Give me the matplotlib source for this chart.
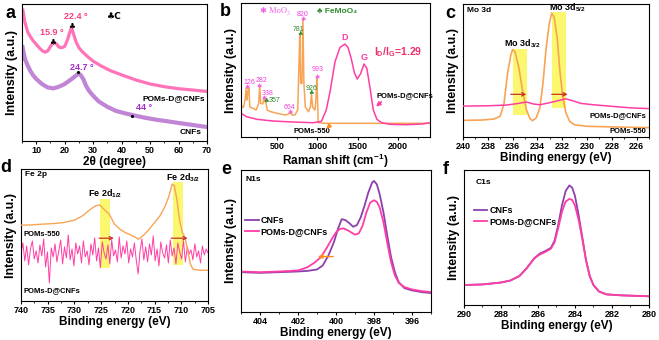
import numpy as np
import matplotlib
matplotlib.use('Agg')
import matplotlib.pyplot as plt
from matplotlib.patches import Rectangle
from matplotlib.ticker import MultipleLocator

plt.rcParams['font.family'] = ['Liberation Sans', 'DejaVu Sans']
plt.rcParams['font.weight'] = 'bold'
plt.rcParams['mathtext.fontset'] = 'custom'
plt.rcParams['mathtext.rm'] = 'Liberation Sans:bold'
plt.rcParams['mathtext.it'] = 'Liberation Sans:bold'
plt.rcParams['mathtext.bf'] = 'Liberation Sans:bold'
plt.rcParams['mathtext.default'] = 'rm'

# ---- a: XRD ----
xrd_x_pom = [5.3, 6, 7, 8, 9, 10, 11, 12, 13, 14, 15, 16, 17, 18, 19, 20, 21, 22, 22.4, 23, 24, 25, 26,
             28, 30, 33, 36, 40, 45, 50, 55, 60, 65, 70]
xrd_y_pom = [130, 118.3, 108.3, 103.3, 99.3, 96, 92.7, 90, 88.3, 89.3, 94, 98, 96.7, 93.3, 92.7, 94, 100.7,
             110, 112.7, 107.3, 98.3, 92.7, 89.3, 84, 79.3, 74.3, 70, 65.7, 60.7, 56.7, 54, 52, 50.7, 49.3]
xrd_x_cnf = [5.2, 6, 7, 8, 9, 10, 12, 14, 16, 18, 20, 22, 23.5, 24.7, 25.5, 26.5, 27.5, 28.5, 30, 32, 35,
             38, 41, 44, 48, 52, 56, 60, 65, 70]
xrd_y_cnf = [93.3, 81.7, 75, 69.3, 65, 61.7, 56.7, 53.3, 52.3, 54, 56.7, 60.7, 64, 66.7, 66, 61.7, 55, 50,
             45, 39.3, 34, 30, 27.7, 25.7, 23.3, 21.3, 19.7, 18, 16, 14]

# ---- b: Raman ----
ram_x_550 = [50, 80, 100, 115, 125, 135, 148, 160, 200, 240, 270, 282, 295, 320, 338, 348, 357, 375, 420,
             500, 600, 640, 664, 685, 720, 755, 770, 781, 792, 808, 820, 832, 850, 890, 912, 926, 940,
             970, 983, 993, 1002, 1010, 1100, 1500, 2000, 2400]
ram_y_550 = [31, 29.7, 37, 48.7, 37, 45, 48.7, 30, 28.7, 27, 33.7, 51, 33.7, 33, 39.7, 35.3, 37, 27, 25.3,
             23.7, 22, 23, 25, 22, 22, 27, 70, 102, 53.7, 53.7, 117.7, 53.7, 30, 25.3, 30, 43, 30,
             27, 40, 59.7, 37, 14.3, 13.7, 13.7, 13.7, 13.7]
ram_x_pom = [50, 120, 250, 450, 700, 950, 1050, 1110, 1157, 1219, 1281, 1343, 1380, 1420, 1460, 1495,
             1535, 1580, 1615, 1655, 1695, 1740, 1800, 1900, 2100, 2300, 2400]
ram_y_pom = [23.7, 20.3, 17.7, 16, 15, 14.3, 15.7, 27, 45.3, 75.3, 89.7, 93, 89.7, 78.7, 64.3, 58,
             63, 73, 68.7, 48.7, 27, 17.7, 14.3, 12.7, 12.3, 13, 14.3]
moo3_peaks = [126, 282, 338, 664, 820, 993]
moo3_mark_y = [49.7, 51, 38.7, 24.3, 117.7, 59.7]
moo3_lab_x = [150, 300, 380, 654, 811, 1006]
moo3_lab_y = [55, 57, 44, 30, 123, 67.7]
femo_peaks = [357, 781, 926]
femo_mark_y = [34.7, 102, 43]
femo_lab_x = [470, 770, 923]
femo_lab_y = [37, 108, 48.5]

# ---- c: Mo 3d ----
mo_x_550 = [240, 238.5, 237.5, 237.0, 236.7, 236.4, 236.15, 236.0, 235.8, 235.5, 235.2, 234.9, 234.6,
            234.4, 234.1, 233.8, 233.55, 233.3, 233.05, 232.85, 232.65, 232.4, 232.2, 231.95, 231.7,
            231.4, 231.0, 230.0, 228, 225]
mo_y_550 = [16, 16.3, 17.3, 20, 31.7, 61.7, 78.3, 84, 81.7, 66.7, 45, 26.7, 17.7, 15.7, 18.3, 28.3,
            51.7, 85, 108.3, 119, 115, 95, 65, 38.3, 23.3, 15, 11.7, 10.3, 9.7, 9]
mo_x_pom = [240, 238, 236.5, 235.5, 234.9, 234.3, 233.8, 233.0, 232.3, 231.7, 231.2, 230.5, 229.5,
            228.5, 227.5, 226.5, 225]
mo_y_pom = [29.7, 30, 30.7, 32.3, 33.7, 31.7, 31, 33, 35, 36.7, 35, 32.3, 31, 30, 29, 28, 27.3]

# ---- d: Fe 2p ----
fe_x_550 = [740, 738, 736, 734, 732, 730, 728.5, 727, 726, 725.3, 724.5, 723.5, 722.5, 721.5, 720.5,
            719.5, 718.5, 718, 717, 716, 715, 714, 713, 712.3, 711.7, 711.3, 710.8, 710.3, 709.8,
            709.3, 708.8, 708.3, 707.8, 706.5, 705]
fe_y_550 = [75.7, 76, 76.7, 77.3, 78.3, 80.7, 85, 91.7, 95, 96, 91.7, 86.7, 76.7, 71.7, 68.3, 66, 63.3,
            61.7, 66, 71.7, 78.3, 85, 95, 105, 116.7, 115, 100, 80, 68.3, 63.3, 50, 36.7, 31.7, 30.7, 30.7]
fe_y_pom = [48, 58, 40, 55, 36, 52, 60, 42, 50, 38, 56, 45, 62, 34, 49, 18, 53, 44, 57, 39,
            50, 61, 37, 54, 43, 66, 41, 52, 35, 58, 47, 55, 38, 60, 44, 50, 36, 57, 46, 63,
            40, 53, 33, 59, 48, 42, 56, 37, 61, 45, 51, 39, 64, 43, 55, 47, 60, 38, 52, 44,
            58, 41, 27, 50, 62, 41, 54, 39, 57, 46, 65, 40, 52, 35, 59, 48, 43, 56, 38, 61,
            45, 53, 37, 58, 49, 42, 60, 39, 54, 47, 51, 41, 57, 44, 50, 38, 55, 46, 52, 48]

# ---- e: N1s ----
n_x_cnf = [405, 404, 403, 402, 401.5, 401, 400.7, 400.4, 400.1, 399.9, 399.7, 399.5, 399.3, 399.1,
           398.9, 398.7, 398.5, 398.3, 398.1, 398.0, 397.85, 397.7, 397.5, 397.3, 397.1, 396.9, 396.7,
           396.4, 396, 395.5, 395]
n_y_cnf = [40, 39.3, 40, 40.7, 41.3, 42.7, 46.7, 56.7, 70.7, 83.3, 93.3, 92.3, 89.3, 85.7, 87.3, 95,
           106.7, 120, 130, 131.7, 128.3, 118.3, 100, 76.7, 55, 40, 30, 24, 21.7, 20, 19]
n_x_pom = [405, 404, 403, 402, 401.5, 401.1, 400.8, 400.5, 400.2, 400.0, 399.8, 399.6, 399.4, 399.2,
           399.0, 398.8, 398.6, 398.4, 398.2, 398.0, 397.85, 397.7, 397.5, 397.3, 397.1, 396.9, 396.7,
           396.4, 396, 395.5, 395]
n_y_pom = [40.7, 40, 40.7, 41.7, 45, 50, 55, 64, 74, 80, 83.3, 84, 82.3, 80, 77.7, 79, 86.7, 100, 110,
           112.3, 110.7, 105, 90, 69.3, 50, 36.7, 29.3, 25, 22.7, 21, 20]

# ---- f: C1s ----
c_x = [290, 289, 288, 287.5, 287, 286.6, 286.2, 285.9, 285.6, 285.3, 285.1, 284.9, 284.7, 284.5, 284.3,
       284.15, 284.0, 283.8, 283.6, 283.4, 283.2, 283.0, 282.7, 282.3, 281.5, 280]
c_y_cnf = [20.7, 21.3, 23.3, 25.3, 30, 38.3, 48.3, 53.3, 56, 59.3, 66.7, 83.3, 103.3, 118.3, 124, 121.7,
           113.3, 93.3, 70, 46.7, 30, 20.7, 14, 11, 10, 9]
c_y_pom = [20.7, 21.3, 23.3, 25.3, 30, 38.3, 48.3, 52.3, 55, 58.3, 65, 80, 96.7, 107.3, 110, 109,
           103.3, 88.3, 68.3, 46, 30, 20.7, 14, 11, 10, 9]

ORANGE = '#f8a455'
PINK = '#ff3ea5'
PURPLE = '#8e3fae'
YELLOW = '#fbf64a'
ARROW = '#c8332b'

fig = plt.figure(figsize=(6.59, 3.40), dpi=100)


def frame(rect, xlim, ylim, major, minor, xlabel):
    ax = fig.add_axes(rect)
    ax.set_xlim(*xlim)
    ax.set_ylim(*ylim)
    ax.set_yticks([])
    ax.xaxis.set_major_locator(MultipleLocator(major))
    ax.xaxis.set_minor_locator(MultipleLocator(minor))
    ax.tick_params(axis='x', which='major', direction='out', length=2.5, width=0.8,
                   labelsize=6.5, pad=1.2)
    ax.tick_params(axis='x', which='minor', direction='out', length=1.5, width=0.6)
    for lab in ax.get_xticklabels():
        lab.set_fontweight('bold')
    for s in ax.spines.values():
        s.set_linewidth(0.8)
    ax.set_ylabel('Intensity (a.u.)', fontsize=9, fontweight='bold', labelpad=3)
    ax.set_xlabel(xlabel, fontsize=8.5, fontweight='bold', labelpad=0.5)
    return ax


SYM = ['DejaVu Sans']

# a
ax = frame([0.0334, 0.585, 0.2807, 0.403], (5, 70), (0, 136), 10, 5, '2θ (degree)')
ax.plot(xrd_x_cnf, xrd_y_cnf, color='#c185d6', lw=3)
ax.plot(xrd_x_pom, xrd_y_pom, color='#ff73b9', lw=2.3)
ax.text(15.9, 99, '♣', family=SYM, fontsize=5.5, ha='center', va='center')
ax.text(22.4, 114.5, '♣', family=SYM, fontsize=5.5, ha='center', va='center')
ax.text(15.3, 107.5, '15.9 °', color='#f53d83', fontsize=6.5, ha='center', va='center')
ax.text(23.8, 123.5, '22.4 °', color='#f53d83', fontsize=6.5, ha='center', va='center')
ax.text(37.5, 123.3, '♣C', family=SYM, fontsize=6.5, ha='center', va='center')
ax.plot([24.7, 43.8], [68.3, 25], 'k.', ms=2.5)
ax.text(26.0, 73.5, '24.7 °', color='#a52acb', fontsize=6.5, ha='center', va='center')
ax.text(48.0, 33.3, '44 °', color='#a52acb', fontsize=6.5, ha='center', va='center')
ax.text(69.2, 41.7, 'POMs-D@CNFs', fontsize=6, ha='right', va='center')
ax.text(68.0, 8.3, 'CNFs', fontsize=6, ha='right', va='center')

# b
ax = frame([0.3657, 0.597, 0.2868, 0.394], (50, 2400), (0, 134), 500, 250, 'Raman shift (cm$^{-1}$)')
ax.plot(ram_x_550, ram_y_550, color=ORANGE, lw=1.1)
ax.plot(ram_x_pom, ram_y_pom, color=PINK, lw=1.1)
for px, py in zip(moo3_peaks, moo3_mark_y):
    ax.text(px, py, '✱', family=SYM, color='#f060e0', fontsize=4.5, ha='center', va='center')
for lx, ly, p in zip(moo3_lab_x, moo3_lab_y, moo3_peaks):
    ax.text(lx, ly, str(p), color='#f040e0', fontsize=5, fontweight='normal', ha='center', va='center')
for px, py in zip(femo_peaks, femo_mark_y):
    ax.text(px, py, '♣', family=SYM, color='#2e8b2e', fontsize=4.5, ha='center', va='center')
for lx, ly, p in zip(femo_lab_x, femo_lab_y, femo_peaks):
    ax.text(lx, ly, str(p), color='#2e8b2e', fontsize=5, fontweight='normal', ha='center', va='center')
ax.text(286, 126, '✱ MoO₃', family=['Liberation Serif', 'DejaVu Sans'], fontweight='normal',
        color='#f060e0', fontsize=6, ha='left', va='center')
ax.text(991, 126, '♣ FeMoO₄', family=['Liberation Sans', 'DejaVu Sans'], color='#2e8b2e',
        fontsize=6, ha='left', va='center')
ax.text(1343, 95, 'D', color=PINK, fontsize=6.5, ha='center', va='bottom')
ax.text(1580, 75, 'G', color=PINK, fontsize=6.5, ha='center', va='bottom')
ax.text(1702, 85.3, 'I$_D$/I$_G$=1.29', color='#f0306a', fontsize=7.5, ha='left', va='center')
ax.text(1738, 41.3, 'POMs-D@CNFs', fontsize=5.5, ha='left', va='center')
ax.text(700, 6, 'POMs-550', fontsize=5.5, ha='left', va='center')
ax.annotate('', xy=(1704, 28.5), xytext=(1820, 37),
            arrowprops=dict(arrowstyle='-|>', color=PINK, lw=1.2, mutation_scale=6))
ax.annotate('', xy=(1085, 6), xytext=(1180, 13.5),
            arrowprops=dict(arrowstyle='-|>', color='#ff8c1a', lw=1.2, mutation_scale=6))

# c
ax = frame([0.7026, 0.597, 0.2822, 0.391], (240, 225), (0, 127.7), 2, 1, 'Binding energy (eV)')
ax.add_patch(Rectangle((234.85, 20.7), 1.15, 63.6, facecolor=YELLOW, edgecolor='none', alpha=0.8, zorder=1))
ax.add_patch(Rectangle((231.7, 27.7), 1.15, 92.3, facecolor=YELLOW, edgecolor='none', alpha=0.8, zorder=1))
ax.plot(mo_x_550, mo_y_550, color=ORANGE, lw=1.2, zorder=2)
ax.plot(mo_x_pom, mo_y_pom, color=PINK, lw=1.1, zorder=3)
ax.annotate('', xy=(234.67, 41), xytext=(236.37, 41),
            arrowprops=dict(arrowstyle='->', color=ARROW, lw=0.9, mutation_scale=6), zorder=4)
ax.annotate('', xy=(231.33, 41), xytext=(233.07, 41),
            arrowprops=dict(arrowstyle='->', color=ARROW, lw=0.9, mutation_scale=6), zorder=4)
ax.text(0.02, 0.953, 'Mo 3d', transform=ax.transAxes, fontsize=6, ha='left', va='center')
ax.text(235.25, 90, 'Mo 3d$_{3/2}$', fontsize=6.5, ha='center', va='center')
ax.text(231.6, 124, 'Mo 3d$_{5/2}$', fontsize=6.5, ha='center', va='center')
ax.text(225.2, 20.7, 'POMs-D@CNFs', fontsize=5.5, ha='right', va='center')
ax.text(225.2, 5, 'POMs-550', fontsize=5.5, ha='right', va='center')

# d
ax = frame([0.0319, 0.1147, 0.2838, 0.388], (740, 705), (0, 131.7), 5, 2.5, 'Binding energy (eV)')
ax.add_patch(Rectangle((723.3, 32.7), 1.9, 69, facecolor=YELLOW, edgecolor='none', alpha=0.8, zorder=1))
ax.add_patch(Rectangle((709.7, 36), 1.9, 83, facecolor=YELLOW, edgecolor='none', alpha=0.8, zorder=1))
fe_x_pom = np.linspace(740, 705, len(fe_y_pom))
ax.plot(fe_x_pom, fe_y_pom, color=PINK, lw=0.7, zorder=2)
ax.plot(fe_x_550, fe_y_550, color=ORANGE, lw=1.0, zorder=3)
ax.annotate('', xy=(722.1, 62.7), xytext=(725.9, 62.7),
            arrowprops=dict(arrowstyle='->', color=ARROW, lw=0.9, mutation_scale=6), zorder=4)
ax.annotate('', xy=(708.3, 62.7), xytext=(712.4, 62.7),
            arrowprops=dict(arrowstyle='->', color=ARROW, lw=0.9, mutation_scale=6), zorder=4)
ax.text(0.023, 0.96, 'Fe 2p', transform=ax.transAxes, fontsize=6, ha='left', va='center')
ax.text(724.25, 106.7, 'Fe 2d$_{1/2}$', fontsize=6.5, ha='center', va='center')
ax.text(709.75, 122.7, 'Fe 2d$_{3/2}$', fontsize=6.5, ha='center', va='center')
ax.text(739.5, 66.7, 'POMs-550', fontsize=5.5, ha='left', va='center')
ax.text(739.5, 10, 'POMs-D@CNFs', fontsize=5.5, ha='left', va='center')

# e
ax = frame([0.3657, 0.0824, 0.2883, 0.4176], (405, 395), (0, 142.7), 2, 1, 'Binding energy (eV)')
ax.plot(n_x_cnf, n_y_cnf, color=PURPLE, lw=1.3, label='CNFs')
ax.plot(n_x_pom, n_y_pom, color=PINK, lw=1.3, label='POMs-D@CNFs')
ax.annotate('', xy=(401.1, 55.7), xytext=(400.0, 55.7),
            arrowprops=dict(arrowstyle='-|>', color='#ff8c1a', lw=1.0, mutation_scale=6))
ax.text(0.023, 0.93, 'N1s', transform=ax.transAxes, fontsize=6, ha='left', va='center')
ax.legend(loc='upper left', bbox_to_anchor=(-0.01, 0.72), frameon=False,
          handlelength=1.5, handletextpad=0.2, labelspacing=0.25, borderaxespad=0.3,
          prop={'weight': 'bold', 'size': 6.5})

# f
ax = frame([0.704, 0.103, 0.2807, 0.397], (290, 280), (0, 140), 2, 1, 'Binding energy (eV)')
ax.plot(c_x, c_y_cnf, color=PURPLE, lw=1.3, label='CNFs')
ax.plot(c_x, c_y_pom, color=PINK, lw=1.3, label='POMs-D@CNFs')
ax.text(0.063, 0.905, 'C1s', transform=ax.transAxes, fontsize=6, ha='left', va='center')
ax.legend(loc='upper left', bbox_to_anchor=(0.02, 0.78), frameon=False,
          handlelength=1.5, handletextpad=0.2, labelspacing=0.25, borderaxespad=0.3,
          prop={'weight': 'bold', 'size': 6.5})

# panel letters
for lx, ly, l in [(10, 13, 'a'), (225, 11, 'b'), (450, 13, 'c'),
                  (6, 168, 'd'), (226, 169, 'e'), (446, 170, 'f')]:
    fig.text(lx / 659, 1 - ly / 340, l, fontsize=13, fontweight='bold', ha='center', va='center')

fig.savefig('out.png', dpi=100)
